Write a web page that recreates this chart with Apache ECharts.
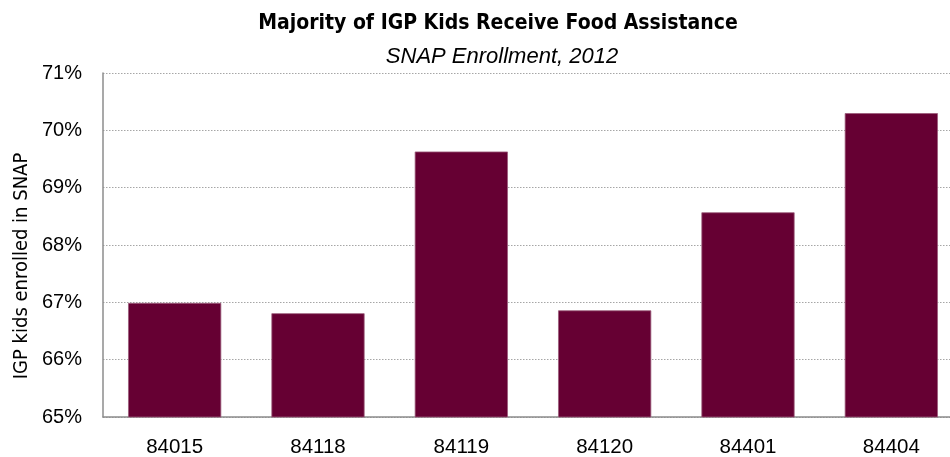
<!DOCTYPE html>
<html>
<head>
<meta charset="utf-8">
<script src="https://cdn.jsdelivr.net/npm/echarts@6/dist/echarts.min.js"></script>
<style>
  html, body { margin: 0; padding: 0; background: #fff; }
  #chart { width: 950px; height: 457px; }
</style>
</head>
<body>
<div id="chart"></div>
<script>
// ZIP codes and share of IGP kids enrolled in SNAP (percent)
const zipCodes = ['84015', '84118', '84119', '84120', '84401', '84404'];
const snapShare = [66.99, 66.81, 69.63, 66.86, 68.57, 70.30];
const yMin = 65;
const yMax = 71;
const yStep = 1;

const NARROW = '"Liberation Sans Narrow", "DejaVu Sans Condensed", "Liberation Sans", sans-serif';
const SANS = '"Liberation Sans", Arial, sans-serif';

const chart = echarts.init(document.getElementById('chart'), null, { renderer: 'canvas' });

chart.setOption({
  animation: false,
  backgroundColor: '#ffffff',
  title: [
    {
      text: 'Majority of IGP Kids Receive Food Assistance',
      left: 493, top: 8, textAlign: 'center',
      textStyle: { fontFamily: NARROW, fontSize: 21, fontWeight: 'bold', color: '#000' }
    },
    {
      text: 'SNAP Enrollment, 2012',
      left: 497, top: 41, textAlign: 'center',
      textStyle: { fontFamily: SANS, fontSize: 22, fontStyle: 'italic', fontWeight: 'normal', color: '#000' }
    }
  ],
  // plot area runs a little past the right edge of the canvas
  grid: { left: 103, top: 73, right: -13, bottom: 40, containLabel: false, outerBoundsMode: 'none' },
  graphic: [{
    type: 'text',
    x: 22, y: 266,
    rotation: Math.PI / 2,
    style: {
      text: 'IGP kids enrolled in SNAP',
      fontFamily: NARROW, fontSize: 20, fill: '#000',
      align: 'center', verticalAlign: 'middle'
    }
  }],
  xAxis: {
    type: 'category',
    data: zipCodes,
    axisLine: { show: true, lineStyle: { color: '#8c8c8c', width: 1.5 } },
    axisTick: { show: false },
    axisLabel: { fontFamily: SANS, fontSize: 20.5, color: '#000', margin: 20 }
  },
  yAxis: {
    type: 'value',
    min: yMin, max: yMax, interval: yStep,
    axisLine: { show: true, lineStyle: { color: '#8c8c8c', width: 1.5 } },
    axisTick: { show: false },
    axisLabel: {
      fontFamily: SANS, fontSize: 20, color: '#000', margin: 21,
      formatter: v => v + '%'
    },
    splitLine: { show: true, lineStyle: { color: '#a6a6a6', type: [1.5, 1.5], width: 1 } }
  },
  series: [{
    type: 'bar',
    data: snapShare,
    barCategoryGap: '35%',
    itemStyle: { color: '#660033', borderColor: '#9a5a7a', borderWidth: 0.8 }
  }]
});
</script>
</body>
</html>
